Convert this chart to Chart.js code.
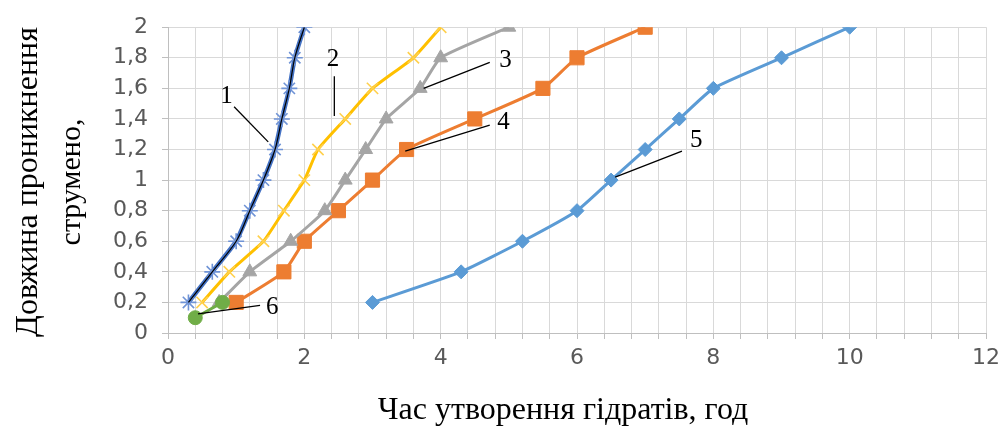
<!DOCTYPE html>
<html lang="uk">
<head>
<meta charset="utf-8">
<script src="https://cdn.jsdelivr.net/npm/chart.js@4.4.1/dist/chart.umd.min.js"></script>
<style>
  html, body { margin: 0; padding: 0; background: #fff; }
  #wrap { width: 1001px; height: 432px; position: relative; }
</style>
</head>
<body>
<div id="wrap"><canvas id="chart" width="1001" height="432"></canvas></div>
<script>
// Дані кривих (час, год -> довжина, м)
const s1x = [0.3, 0.65, 1.0, 1.2, 1.4, 1.57, 1.67, 1.78, 1.86, 2.0];
const s1y = [0.2, 0.4, 0.6, 0.8, 1.0, 1.2, 1.4, 1.6, 1.8, 2.0];
const s2x = [0.5, 0.9, 1.4, 1.7, 2.0, 2.2, 2.6, 3.0, 3.6, 4.0];
const s2y = [0.2, 0.4, 0.6, 0.8, 1.0, 1.2, 1.4, 1.6, 1.8, 2.0];
const s3x = [0.75, 1.2, 1.8, 2.3, 2.6, 2.9, 3.2, 3.7, 4.0, 5.0];
const s3y = [0.2, 0.4, 0.6, 0.8, 1.0, 1.2, 1.4, 1.6, 1.8, 2.0];
const s4x = [1.0, 1.7, 2.0, 2.5, 3.0, 3.5, 4.5, 5.5, 6.0, 7.0];
const s4y = [0.2, 0.4, 0.6, 0.8, 1.0, 1.2, 1.4, 1.6, 1.8, 2.0];
const s5x = [3.0, 4.3, 5.2, 6.0, 6.5, 7.0, 7.5, 8.0, 9.0, 10.0];
const s5y = [0.2, 0.4, 0.6, 0.8, 1.0, 1.2, 1.4, 1.6, 1.8, 2.0];
const s6x = [0.4, 0.8];
const s6y = [0.1, 0.2];

// Номери кривих і виноски (в одиницях осей)
const curveLabels = ['1', '2', '3', '4', '5', '6'];
const labelAt = [[0.86, 1.55], [2.42, 1.79], [4.95, 1.78], [4.92, 1.38], [7.75, 1.26], [1.53, 0.17]];
const leaderFrom = [[0.97, 1.48], [2.44, 1.68], [4.72, 1.77], [4.72, 1.36], [7.54, 1.19], [1.35, 0.18]];
const leaderTo = [[1.47, 1.25], [2.44, 1.42], [3.75, 1.6], [3.48, 1.19], [6.56, 1.02], [0.44, 0.125]];

const xTitle = 'Час утворення гідратів, год';
const yTitle = ['Довжина проникнення', 'струмено,'];

const pts = (xs, ys) => xs.map((x, i) => ({ x: x, y: ys[i] }));

const serif = '"Liberation Serif", "Times New Roman", serif';
const sans = '"DejaVu Sans", sans-serif';

const annotations = {
  id: 'annotations',
  afterDatasetsDraw(chart) {
    const { ctx, scales: { x, y } } = chart;
    ctx.save();
    ctx.strokeStyle = '#000';
    ctx.lineWidth = 1.3;
    leaderFrom.forEach((p, i) => {
      const q = leaderTo[i];
      ctx.beginPath();
      ctx.moveTo(x.getPixelForValue(p[0]), y.getPixelForValue(p[1]));
      ctx.lineTo(x.getPixelForValue(q[0]), y.getPixelForValue(q[1]));
      ctx.stroke();
    });
    ctx.fillStyle = '#000';
    ctx.font = '25px ' + serif;
    ctx.textAlign = 'center';
    ctx.textBaseline = 'middle';
    curveLabels.forEach((t, i) => {
      ctx.fillText(t, x.getPixelForValue(labelAt[i][0]), y.getPixelForValue(labelAt[i][1]));
    });
    ctx.restore();
  },
  afterDraw(chart) {
    const { ctx } = chart;
    ctx.save();
    ctx.fillStyle = '#000';
    ctx.font = '32px ' + serif;
    ctx.textAlign = 'center';
    ctx.textBaseline = 'middle';
    ctx.fillText(xTitle, 563, 411);
    ctx.translate(0, 182);
    ctx.rotate(-Math.PI / 2);
    ctx.fillText(yTitle[0], 0, 29);
    ctx.font = '30px ' + serif;
    ctx.fillText(yTitle[1], 0, 72);
    ctx.restore();
  }
};

const line = (data, color, style, radius, extra) => Object.assign({
  data: data,
  showLine: true,
  borderColor: color,
  backgroundColor: color,
  borderWidth: 3,
  pointStyle: style,
  pointRadius: radius,
  pointBorderColor: color,
  pointBackgroundColor: color,
  pointBorderWidth: 1,
  tension: 0.15
}, extra || {});

const datasets = [
  line(pts(s1x, s1y), '#000000', false, 0, { borderWidth: 1.2, tension: 0.3 }),
  line(pts(s6x, s6y), '#70AD47', 'circle', 7),
  line(pts(s1x, s1y), '#4472C4', 'star', 8, { borderWidth: 4.5, pointBorderColor: '#6F93D6', pointBorderWidth: 1.6 }),
  line(pts(s2x, s2y), '#FFC000', 'crossRot', 8, { pointBorderColor: '#FFD04D', pointBorderWidth: 1.6 }),
  line(pts(s3x, s3y), '#A5A5A5', 'triangle', 8),
  line(pts(s4x, s4y), '#ED7D31', 'rect', 10),
  line(pts(s5x, s5y), '#5B9BD5', 'rectRot', 7)
];

new Chart(document.getElementById('chart'), {
  type: 'scatter',
  data: { datasets },
  options: {
    responsive: false,
    animation: false,
    layout: { padding: { top: 20, right: 15, left: 0, bottom: 0 } },
    plugins: { legend: { display: false }, tooltip: { enabled: false } },
    scales: {
      x: {
        type: 'linear',
        min: 0,
        max: 12,
        afterFit: (s) => { s.height = 99; s.paddingRight = 0; s.paddingLeft = 0; },
        grid: { color: '#D9D9D9', tickColor: '#BFBFBF', tickLength: 6 },
        border: { color: '#BFBFBF' },
        ticks: {
          stepSize: 0.4,
          autoSkip: false,
          maxRotation: 0,
          padding: 6,
          color: '#595959',
          font: { family: sans, size: 22 },
          callback: (v) => {
            const r = Math.round(v);
            return Math.abs(v - r) < 1e-6 && r % 2 === 0 ? String(r) : '';
          }
        }
      },
      y: {
        min: 0,
        max: 2,
        afterFit: (s) => { s.width = 168; },
        grid: { color: '#D9D9D9', tickColor: '#BFBFBF', tickLength: 6 },
        border: { color: '#BFBFBF' },
        ticks: {
          stepSize: 0.2,
          padding: 14,
          color: '#595959',
          font: { family: sans, size: 22 },
          callback: (v) => String(Math.round(v * 10) / 10).replace('.', ',')
        }
      }
    }
  },
  plugins: [annotations]
});
</script>
</body>
</html>
